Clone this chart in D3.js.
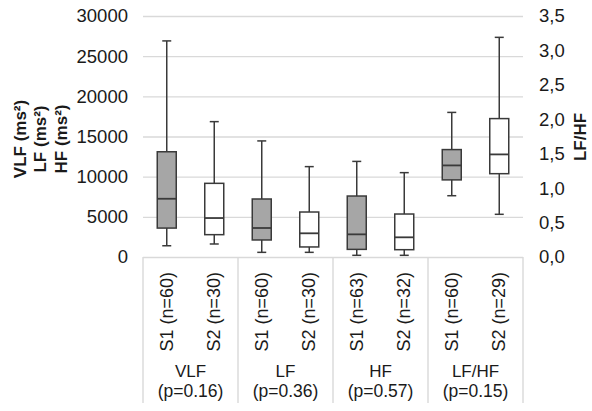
<!DOCTYPE html>
<html>
<head>
<meta charset="utf-8">
<script src="https://cdn.jsdelivr.net/npm/d3@7"></script>
<style>
  html, body { margin: 0; padding: 0; background: #fff; }
  svg { display: block; font-family: "Liberation Sans", Arial, sans-serif; }
</style>
</head>
<body>
<svg id="chart" width="592" height="411"></svg>
<script>
// ---- data ----
const categories = ["VLF", "LF", "HF", "LF/HF"];
const pValues = ["0.16", "0.36", "0.57", "0.15"];
const groups = ["S1", "S2"];
const nS1 = [60, 60, 63, 60];
const nS2 = [30, 30, 32, 29];
// five-number summaries [min, q1, median, q3, max]
const statsS1 = [
  [1400, 3600, 7250, 13100, 26900],
  [580, 2120, 3610, 7220, 14450],
  [210, 950, 2820, 7590, 11900],
  [0.89, 1.12, 1.33, 1.56, 2.10]
];
const statsS2 = [
  [1620, 2780, 4850, 9170, 16850],
  [580, 1250, 2950, 5600, 11250],
  [210, 910, 2450, 5350, 10500],
  [0.62, 1.21, 1.49, 2.01, 3.19]
];
const leftTicks = [0, 5000, 10000, 15000, 20000, 25000, 30000];
const rightTicks = [0, 0.5, 1.0, 1.5, 2.0, 2.5, 3.0, 3.5];
const leftTitle = ["VLF (ms²)", "LF (ms²)", "HF (ms²)"];
const rightTitle = "LF/HF";

// ---- layout ----
const svg = d3.select("#chart");
const plot = { left: 143, right: 523, top: 16, bottom: 257 };
const catBottom = 403;
const textColor = "#1a1a1a";
const gridColor = "#d9d9d9";

const x = d3.scaleBand().domain(categories).range([plot.left, plot.right]).padding(0);
const xIn = d3.scaleBand().domain(groups).range([0, x.bandwidth()]).padding(0);
const yL = d3.scaleLinear().domain([0, 30000]).range([plot.bottom, plot.top]);
const yR = d3.scaleLinear().domain([0, 3.5]).range([plot.bottom, plot.top]);

// gridlines
svg.append("g")
  .attr("transform", `translate(${plot.left},0)`)
  .call(d3.axisLeft(yL).tickValues(leftTicks).tickSize(-(plot.right - plot.left)).tickFormat(""))
  .call(g => g.select(".domain").remove())
  .call(g => g.selectAll("line").attr("stroke", gridColor).attr("stroke-width", 1.4));

// category separators
const bounds = categories.map(c => x(c)).concat([plot.right]);
svg.append("g").selectAll("line").data(bounds).join("line")
  .attr("x1", d => d).attr("x2", d => d)
  .attr("y1", plot.bottom).attr("y2", catBottom)
  .attr("stroke", gridColor).attr("stroke-width", 1.4);

// left axis labels
svg.append("g")
  .attr("transform", `translate(${plot.left},0)`)
  .call(d3.axisLeft(yL).tickValues(leftTicks).tickSize(0).tickPadding(15).tickFormat(d3.format("d")))
  .call(g => g.select(".domain").remove())
  .call(g => g.selectAll("text").attr("fill", textColor).style("font-size", "18.5px")
      .style("font-family", "'Liberation Sans', Arial, sans-serif"));

// right axis labels
svg.append("g")
  .attr("transform", `translate(${plot.right},0)`)
  .call(d3.axisRight(yR).tickValues(rightTicks).tickSize(0).tickPadding(16)
      .tickFormat(d => d3.format(".1f")(d).replace(".", ",")))
  .call(g => g.select(".domain").remove())
  .call(g => g.selectAll("text").attr("fill", textColor).style("font-size", "18.5px")
      .style("font-family", "'Liberation Sans', Arial, sans-serif"));

// axis titles
const lt = svg.append("text")
  .attr("transform", `translate(20,139) rotate(-90)`)
  .attr("text-anchor", "middle")
  .attr("fill", textColor)
  .style("font-size", "17px").style("font-weight", "bold");
leftTitle.forEach((t, i) => {
  lt.append("tspan").attr("x", 0).attr("y", i * 20.5).attr("dominant-baseline", "central").text(t);
});

svg.append("text")
  .attr("transform", `translate(580,137) rotate(-90)`)
  .attr("text-anchor", "middle")
  .attr("dominant-baseline", "central")
  .attr("fill", textColor)
  .style("font-size", "17px").style("font-weight", "bold")
  .text(rightTitle);

// boxes
const boxData = [];
categories.forEach((c, i) => {
  const scale = c === "LF/HF" ? yR : yL;
  boxData.push({ cat: c, grp: "S1", s: statsS1[i], n: nS1[i], scale, fill: "#a6a6a6" });
  boxData.push({ cat: c, grp: "S2", s: statsS2[i], n: nS2[i], scale, fill: "#ffffff" });
});

const boxW = xIn.bandwidth() * 0.4;
const capW = 9;
const strokeC = "#3a3a3a";
const bx = svg.append("g").selectAll("g").data(boxData).join("g")
  .attr("transform", d => `translate(${x(d.cat) + xIn(d.grp) + xIn.bandwidth() / 2},0)`);

bx.append("line")
  .attr("x1", 0).attr("x2", 0)
  .attr("y1", d => d.scale(d.s[0])).attr("y2", d => d.scale(d.s[4]))
  .attr("stroke", strokeC).attr("stroke-width", 1.5);
bx.append("line")
  .attr("x1", -capW / 2).attr("x2", capW / 2)
  .attr("y1", d => d.scale(d.s[4])).attr("y2", d => d.scale(d.s[4]))
  .attr("stroke", strokeC).attr("stroke-width", 1.5);
bx.append("line")
  .attr("x1", -capW / 2).attr("x2", capW / 2)
  .attr("y1", d => d.scale(d.s[0])).attr("y2", d => d.scale(d.s[0]))
  .attr("stroke", strokeC).attr("stroke-width", 1.5);
bx.append("rect")
  .attr("x", -boxW / 2).attr("width", boxW)
  .attr("y", d => d.scale(d.s[3]))
  .attr("height", d => d.scale(d.s[1]) - d.scale(d.s[3]))
  .attr("fill", d => d.fill)
  .attr("stroke", strokeC).attr("stroke-width", 1.5);
bx.append("line")
  .attr("x1", -boxW / 2).attr("x2", boxW / 2)
  .attr("y1", d => d.scale(d.s[2])).attr("y2", d => d.scale(d.s[2]))
  .attr("stroke", strokeC).attr("stroke-width", 1.8);

// rotated group labels
bx.append("text")
  .attr("transform", "translate(0,272) rotate(-90)")
  .attr("text-anchor", "end")
  .attr("dominant-baseline", "central")
  .attr("fill", textColor)
  .style("font-size", "18px")
  .text(d => `${d.grp} (n=${d.n})`);

// category labels (two separate lines)
const catG = svg.append("g").selectAll("g").data(categories).join("g");
catG.append("text")
  .attr("x", d => x(d) + x.bandwidth() / 2)
  .attr("y", 377)
  .attr("text-anchor", "middle")
  .attr("fill", textColor)
  .style("font-size", "17px")
  .text(d => d);
catG.append("text")
  .attr("x", d => x(d) + x.bandwidth() / 2)
  .attr("y", 397)
  .attr("text-anchor", "middle")
  .attr("fill", textColor)
  .style("font-size", "17.5px")
  .text((d, i) => `(p=${pValues[i]})`);
</script>
</body>
</html>
